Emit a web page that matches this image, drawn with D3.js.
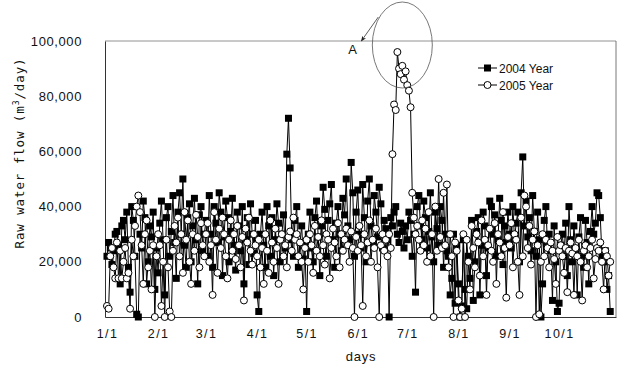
<!DOCTYPE html>
<html><head><meta charset="utf-8">
<script src="https://cdn.jsdelivr.net/npm/d3@7"></script>
<style>
html,body{margin:0;padding:0;background:#fff;}
svg{display:block;}
</style></head>
<body>
<svg id="chart" width="622" height="365"></svg>
<script>
// Raw water flow, thousand m3/day, index = day from 1/1
const flow2004 = [
 22,27,25,19,24,30,31,26,12,33,35,28,38,18,9,40,35,22,1,0,30,25,42,36,12,20,33,29,38,10,25,
 16,34,42,28,8,36,40,22,31,44,27,14,38,45,30,50,26,18,36,41,20,33,43,28,12,37,40,24,30,
 35,22,44,30,18,40,34,27,45,38,15,29,42,36,20,31,43,26,17,38,33,24,40,12,28,36,19,41,30,23,35,
 8,2,30,38,26,18,40,33,22,36,15,28,41,34,20,30,37,25,59,72,54,28,22,35,40,18,27,33,21,26,
 2,30,38,25,20,36,42,29,15,33,47,39,22,35,41,48,28,18,34,40,30,24,43,37,50,33,28,56,45,22,38,
 46,30,25,48,36,20,42,50,33,27,44,38,29,47,41,25,35,32,28,0,36,33,38,40,30,27,34,31,25,33,
 28,38,35,22,30,9,40,44,33,28,42,36,25,31,45,29,20,38,32,26,40,35,18,30,24,22,8,14,30,5,26,
 12,0,4,28,10,3,22,14,35,6,20,31,36,8,26,38,33,15,25,42,40,30,37,22,28,43,35,19,33,27,38,
 30,25,40,28,34,38,20,45,58,33,42,29,36,24,44,31,22,38,28,0,12,35,40,26,30,24,6,33,20,2,
 5,26,30,22,34,15,40,28,20,33,24,8,29,36,22,18,35,27,12,31,40,30,34,45,44,36,22,20,24,10,15,2
];
const flow2005 = [
 4,3,22,25,18,14,27,14,24,14,20,25,14,16,3,28,22,33,40,44,38,26,12,30,35,18,24,10,26,0,22,
 30,26,4,20,0,28,18,2,0,24,33,27,36,22,30,16,38,28,35,20,12,30,24,37,29,18,34,26,22,
 30,34,20,26,8,38,28,16,32,25,36,30,22,14,28,35,24,30,21,33,26,18,29,6,32,27,36,24,19,30,26,
 22,28,18,25,12,30,24,16,35,27,20,32,25,12,28,30,22,26,18,29,31,24,36,28,30,22,27,20,10,25,
 28,20,30,26,16,33,24,29,22,35,26,19,30,28,14,25,32,27,22,34,18,30,24,28,32,26,20,31,25,0,29,
 24,33,26,4,30,22,27,35,20,28,25,32,18,0,26,30,24,28,22,30,25,59,77,75,96,90,88,91,86,89,
 84,82,76,45,36,30,33,28,24,35,26,32,20,38,22,30,0,40,24,50,29,25,45,26,48,18,30,22,0,27,24,
 6,0,3,30,0,28,20,10,33,25,18,30,27,15,35,22,28,8,26,32,24,20,34,12,30,27,22,38,25,7,29,
 26,34,18,30,28,20,8,36,22,44,40,25,33,19,28,31,0,26,1,20,30,22,28,25,18,27,24,21,12,29,
 24,26,22,16,25,9,24,27,23,8,25,22,28,20,6,24,26,18,22,25,28,14,21,25,24,27,20,10,24,22,15,20
];
const seriesNames = ["2004 Year", "2005 Year"];
const tickDays = [0,31,60,91,121,152,182,213,244,274];
const tickLabels = ["1/1","2/1","3/1","4/1","5/1","6/1","7/1","8/1","9/1","10/1"];
const yTicks = [0,20000,40000,60000,80000,100000];
const annotation = {label:"A", day:179, value:100000};

const svg = d3.select("#chart");
const L=105, R=616, T=41, B=317;
const x = d3.scaleLinear().domain([-1.2, 308.5]).range([L, R]);
const y = d3.scaleLinear().domain([0, 100000]).range([B, T]);

// frame
svg.append("line").attr("x1",L).attr("x2",R).attr("y1",T).attr("y2",T).attr("stroke","#777").attr("stroke-width",0.8);
svg.append("line").attr("x1",R).attr("x2",R).attr("y1",T).attr("y2",B).attr("stroke","#555").attr("stroke-width",0.8);

const yAxis = svg.append("g").attr("transform",`translate(${L},0)`)
  .call(d3.axisLeft(y).tickValues(yTicks).tickSize(0).tickPadding(23).tickFormat(d3.format(",")));
yAxis.select(".domain").attr("stroke","#333").attr("stroke-width",1);
yAxis.selectAll("text").attr("font-family","'Liberation Sans',Arial,sans-serif").attr("font-size",13).attr("letter-spacing","0.6px").attr("fill","#111");

const xAxis = svg.append("g").attr("transform",`translate(0,${B})`)
  .call(d3.axisBottom(x).tickValues(tickDays).tickSize(0).tickPadding(12).tickFormat((d,i)=>tickLabels[i]));
xAxis.select(".domain").attr("stroke","#333").attr("stroke-width",1);
xAxis.selectAll("text").attr("font-family","'Liberation Sans',Arial,sans-serif").attr("font-size",12.5).attr("letter-spacing","1.4px").attr("fill","#111");

// axis titles
svg.append("text").attr("x",361).attr("y",361).attr("text-anchor","middle")
  .attr("font-family","'Liberation Sans',Arial,sans-serif").attr("font-size",13).attr("letter-spacing","0.8px").attr("fill","#111").text("days");
const yt = svg.append("text").attr("transform","translate(24,153) rotate(-90)").attr("text-anchor","middle")
  .attr("font-family","'DejaVu Sans Mono',monospace").attr("font-size",12.5).attr("letter-spacing","0.9px").attr("fill","#111");
yt.append("tspan").text("Raw water flow (m");
yt.append("tspan").attr("font-size",8).attr("dy",-5).text("3");
yt.append("tspan").attr("dy",5).text("/day)");

const line = d3.line().x((d,i)=>x(i)).y(d=>y(d*1000));
const g = svg.append("g");
// 2004
g.append("path").datum(flow2004).attr("d",line).attr("fill","none").attr("stroke","#000").attr("stroke-width",1);
g.selectAll("rect.s04").data(flow2004).join("rect").attr("class","s04")
  .attr("x",(d,i)=>x(i)-3.5).attr("y",d=>y(d*1000)-3.5).attr("width",7).attr("height",7).attr("fill","#000");
// 2005
g.append("path").datum(flow2005).attr("d",line).attr("fill","none").attr("stroke","#000").attr("stroke-width",1);
g.selectAll("circle.s05").data(flow2005).join("circle").attr("class","s05")
  .attr("cx",(d,i)=>x(i)).attr("cy",d=>y(d*1000)).attr("r",3.5).attr("fill","#fff").attr("stroke","#000").attr("stroke-width",1);

// legend
const lg = svg.append("g").attr("transform","translate(478,68)");
seriesNames.forEach((n,i)=>{
  const gy = i*17;
  lg.append("line").attr("x1",0).attr("x2",19).attr("y1",gy).attr("y2",gy).attr("stroke","#000").attr("stroke-width",1);
  if(i===0) lg.append("rect").attr("x",6).attr("y",gy-3.5).attr("width",7).attr("height",7).attr("fill","#000");
  else lg.append("circle").attr("cx",9.5).attr("cy",gy).attr("r",3.5).attr("fill","#fff").attr("stroke","#000");
  lg.append("text").attr("x",21).attr("y",gy+4.5).attr("font-family","'Liberation Sans',Arial,sans-serif").attr("font-size",12).attr("fill","#111").text(n);
});

// annotation
const cx = x(annotation.day), cy = y(annotation.value)+4;
svg.append("ellipse").attr("cx",cx).attr("cy",cy).attr("rx",30).attr("ry",43).attr("fill","none").attr("stroke","#555").attr("stroke-width",0.8);
svg.append("defs").append("marker").attr("id","ah").attr("viewBox","0 0 10 10").attr("refX",9).attr("refY",5)
  .attr("markerWidth",7).attr("markerHeight",7).attr("orient","auto")
  .append("path").attr("d","M0,1 L10,5 L0,9 L3,5 Z").attr("fill","#222");
svg.append("line").attr("x1",cx-24).attr("y1",cy-28).attr("x2",cx-41).attr("y2",cy-4)
  .attr("stroke","#333").attr("stroke-width",0.8).attr("marker-end","url(#ah)");
svg.append("text").attr("x",cx-54).attr("y",cy+9).attr("font-family","'Liberation Sans',Arial,sans-serif").attr("font-size",13).attr("fill","#111").text(annotation.label);
</script>
</body></html>
